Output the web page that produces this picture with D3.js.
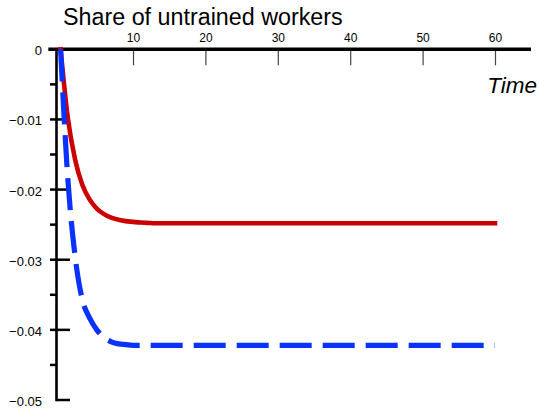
<!DOCTYPE html>
<html>
<head>
<meta charset="utf-8">
<script src="https://cdn.jsdelivr.net/npm/d3@7"></script>
<style>
  body { margin: 0; background: #fff; }
  svg { display: block; font-family: "Liberation Sans", Arial, sans-serif; }
</style>
</head>
<body>
<div id="chart"></div>
<script>
var w = 539;
var h = 414;

// time periods and the two responses
var times = [0, 1, 2, 3, 4, 5, 6, 7, 8, 9, 10, 11, 12, 13, 14, 15, 20, 25, 30, 35, 40, 45, 50, 55, 60];
var solid = [0, -0.0098, -0.0157, -0.0193, -0.0214, -0.0227, -0.0235, -0.0240, -0.0243, -0.0245,
             -0.0246, -0.0247, -0.02475, -0.0248, -0.0248, -0.0248, -0.0248, -0.0248, -0.0248, -0.0248,
             -0.0248, -0.0248, -0.0248, -0.0248, -0.0248];
var dashed = [0, -0.0185, -0.0295, -0.0357, -0.0383, -0.0400, -0.0411, -0.0417, -0.0420, -0.0421,
              -0.0422, -0.0422, -0.0422, -0.0422, -0.0422, -0.0422, -0.0422, -0.0422, -0.0422, -0.0422,
              -0.0422, -0.0422, -0.0422, -0.0422, -0.0422];

var xTicks = [10, 20, 30, 40, 50, 60];
var yTicks = [0, -0.01, -0.02, -0.03, -0.04, -0.05];
var yMinor = [-0.005, -0.015, -0.025, -0.035, -0.045];

var svg = d3.select("#chart").append("svg")
    .attr("width", w)
    .attr("height", h);

var x = d3.scaleLinear().domain([0, 60]).range([60.6, 495]);
var y = d3.scaleLinear().domain([0, -0.05]).range([49.3, 400]);

var axisX = 56.5;

// title
svg.append("text")
    .attr("x", 63)
    .attr("y", 25)
    .attr("font-size", 23.3)
    .text("Share of untrained workers");

svg.append("text")
    .attr("x", 537)
    .attr("y", 93)
    .attr("text-anchor", "end")
    .attr("font-size", 22.5)
    .attr("font-style", "italic")
    .text("Time");

// x axis (ticks hang down, labels above)
var gx = svg.append("g")
    .attr("transform", "translate(0," + y(0) + ")")
    .call(d3.axisTop(x).tickValues(xTicks).tickSize(-16).tickPadding(7));
gx.select(".domain").remove();
gx.selectAll(".tick line").attr("stroke", "#444").attr("stroke-width", 1.2);
gx.selectAll(".tick text")
    .attr("font-size", 12)
    .attr("font-family", "Liberation Sans, Arial, sans-serif")
    .attr("fill", "#000");

// y axis labels
var gy = svg.append("g")
    .attr("transform", "translate(42,0)")
    .call(d3.axisLeft(y).tickValues(yTicks).tickSize(0).tickPadding(0)
          .tickFormat(function(d) { return d === 0 ? "0" : d3.format(".2f")(d); }));
gy.select(".domain").remove();
gy.selectAll(".tick text")
    .attr("font-size", 13)
    .attr("font-family", "Liberation Sans, Arial, sans-serif")
    .attr("fill", "#000")
    .attr("dy", "0.42em");

// y ticks
svg.selectAll(".ymaj")
    .data(yTicks.slice(1))
    .enter()
    .append("line")
    .attr("x1", function(d) { return d === -0.05 ? axisX : 50; })
    .attr("x2", 70)
    .attr("y1", function(d) { return y(d); })
    .attr("y2", function(d) { return y(d); })
    .attr("stroke", "#000")
    .attr("stroke-width", 2.5);

svg.selectAll(".ymin")
    .data(yMinor)
    .enter()
    .append("line")
    .attr("x1", 50)
    .attr("x2", axisX)
    .attr("y1", function(d) { return y(d); })
    .attr("y2", function(d) { return y(d); })
    .attr("stroke", "#000")
    .attr("stroke-width", 2.5);

// axis lines
svg.append("line")
    .attr("x1", axisX).attr("x2", axisX)
    .attr("y1", y(0)).attr("y2", y(-0.05) + 1.2)
    .attr("stroke", "#000").attr("stroke-width", 2.6);

svg.append("line")
    .attr("x1", 48.3).attr("x2", 531)
    .attr("y1", y(0)).attr("y2", y(0))
    .attr("stroke", "#000").attr("stroke-width", 3.4);

// series
var line = d3.line()
    .x(function(d) { return x(d[0]); })
    .y(function(d) { return y(d[1]); })
    .curve(d3.curveMonotoneX);

svg.append("path")
    .datum(times.map(function(t, i) { return [t, solid[i]]; }))
    .attr("d", line)
    .attr("fill", "none")
    .attr("stroke", "#cc0000")
    .attr("stroke-width", 4.6)
    .attr("stroke-linecap", "square");

svg.append("path")
    .datum(times.map(function(t, i) { return [t, dashed[i]]; }))
    .attr("d", line)
    .attr("fill", "none")
    .attr("stroke", "#0a32ff")
    .attr("stroke-width", 5.2)
    .attr("stroke-dasharray", "32,11");
</script>
</body>
</html>
